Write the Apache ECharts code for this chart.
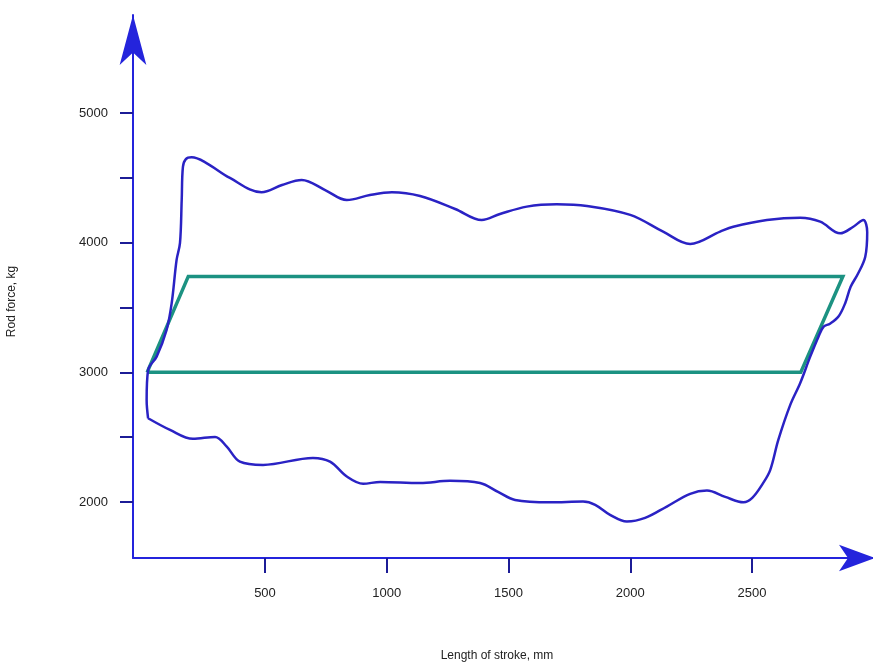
<!DOCTYPE html>
<html>
<head>
<meta charset="utf-8">
<script src="https://cdn.jsdelivr.net/npm/echarts@6/dist/echarts.min.js"></script>
<style>
  html, body { margin: 0; padding: 0; background: #ffffff; }
  #chart { width: 873px; height: 662px; }
</style>
</head>
<body>
<div id="chart"></div>
<script>
// Dynamometer card: measured rod force over one pump stroke (closed loop)
var cardX = [20, 14, 20, 55, 96, 117, 137, 151, 158, 163, 175, 199, 253, 356, 486, 570, 651, 747, 836, 931,
             1021, 1137, 1281, 1390, 1465, 1575, 1698, 1822, 2000, 2135, 2246, 2369, 2423, 2561, 2698, 2780,
             2862, 2916, 2957, 2973, 2965, 2935, 2905, 2883, 2855, 2820, 2794, 2773, 2739, 2698, 2657, 2608, 2575,
             2546, 2501, 2465, 2390, 2315, 2246, 2150, 2061, 1986, 1917, 1856, 1806, 1671, 1527, 1457, 1383,
             1260, 1137, 973, 903, 836, 767, 697, 492, 397, 343, 295, 204, 110, 20];
var cardY = [2646, 2787, 3018, 3121, 3327, 3535, 3867, 3998, 4329, 4584, 4645, 4658, 4622, 4499, 4389, 4445, 4483, 4406, 4329, 4368,
             4389, 4360, 4260, 4175, 4221, 4278, 4296, 4283, 4214, 4085, 3990, 4085, 4123, 4175, 4193, 4162,
             4072, 4123, 4175, 4083, 3892, 3760, 3660, 3535, 3430, 3375, 3352, 3275, 3121, 2918, 2749, 2479, 2248,
             2147, 2032, 1998, 2039, 2088, 2063, 1965, 1877, 1849, 1901, 1978, 2003, 1998, 2016, 2078, 2147,
             2163, 2147, 2155, 2140, 2196, 2311, 2340, 2286, 2311, 2427, 2502, 2487, 2556, 2646];

// Theoretical (ideal) card: parallelogram
var idealX = [16, 185, 2873, 2700, 16];
var idealY = [3000, 3740, 3740, 3000, 3000];

// Tick positions and labels
var xLabelValues = [500, 1000, 1500, 2000, 2500];
var yLabelValues = [2000, 3000, 4000, 5000];
var yTickValues = [2000, 2500, 3000, 3500, 4000, 4500, 5000];

function pairs(xs, ys) {
  return xs.map(function (x, i) { return [x, ys[i]]; });
}
function plain(v) { return String(v); }

var axisBlue = '#2424dc';
var tickNavy = '#1c1c96';
var textColor = '#222222';
var fontFamily = '"Liberation Sans", Arial, sans-serif';

var chart = echarts.init(document.getElementById('chart'), null, { renderer: 'canvas' });

chart.setOption({
  backgroundColor: '#ffffff',
  animation: false,
  grid: { left: 133, top: 15, width: 742, height: 543, containLabel: false, outerBoundsMode: 'none' },
  xAxis: {
    type: 'value',
    min: -42,
    max: 3005,
    name: 'Length of stroke, mm',
    nameLocation: 'middle',
    nameGap: 92,
    nameTextStyle: { color: textColor, fontSize: 12, fontFamily: fontFamily, padding: [0, 14, 0, 0] },
    axisLine: {
      show: true,
      onZero: false,
      symbol: ['none', 'arrow'],
      symbolSize: [20, 36],
      lineStyle: { color: axisBlue, width: 2 }
    },
    axisTick: {
      show: true,
      inside: false,
      length: 15,
      customValues: xLabelValues,
      lineStyle: { color: tickNavy, width: 2 }
    },
    axisLabel: {
      show: true,
      margin: 29,
      customValues: xLabelValues,
      formatter: plain,
      color: textColor,
      fontSize: 13,
      fontFamily: fontFamily
    },
    splitLine: { show: false }
  },
  yAxis: {
    type: 'value',
    min: 1568,
    max: 5756,
    name: 'Rod force, kg',
    nameLocation: 'middle',
    nameGap: 115,
    nameRotate: 90,
    nameTextStyle: { color: textColor, fontSize: 12, fontFamily: fontFamily, padding: [0, 30, 0, 0] },
    axisLine: {
      show: true,
      onZero: false,
      symbol: ['none', 'arrow'],
      symbolSize: [20, 50],
      lineStyle: { color: axisBlue, width: 2 }
    },
    axisTick: {
      show: true,
      inside: false,
      length: 13,
      customValues: yTickValues,
      lineStyle: { color: tickNavy, width: 2 }
    },
    axisLabel: {
      show: true,
      margin: 25,
      customValues: yLabelValues,
      formatter: plain,
      color: textColor,
      fontSize: 13,
      fontFamily: fontFamily
    },
    splitLine: { show: false }
  },
  series: [
    {
      name: 'Ideal card',
      type: 'line',
      data: pairs(idealX, idealY),
      showSymbol: false,
      symbol: 'none',
      clip: false,
      z: 2,
      lineStyle: { color: '#1c9282', width: 3.5, join: 'miter' }
    },
    {
      name: 'Measured card',
      type: 'line',
      data: pairs(cardX, cardY),
      showSymbol: false,
      symbol: 'none',
      smooth: 0.35,
      clip: false,
      z: 3,
      lineStyle: { color: '#2a22c4', width: 2.5 }
    }
  ]
});
</script>
</body>
</html>
